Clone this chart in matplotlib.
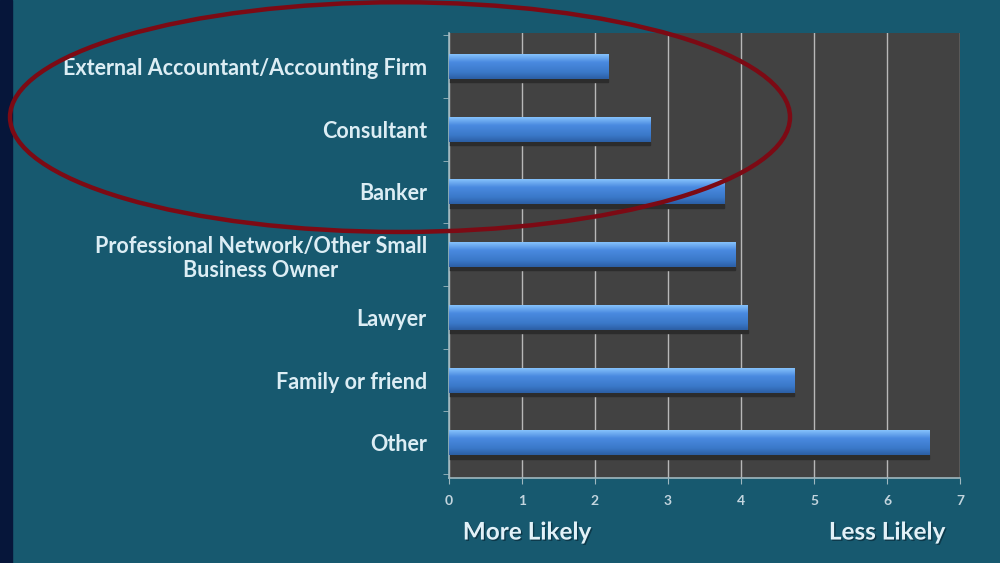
import numpy as np
import matplotlib
matplotlib.use("Agg")
import matplotlib.pyplot as plt
from matplotlib.patches import Ellipse, Rectangle
from matplotlib.colors import LinearSegmentedColormap
import matplotlib.patheffects as pe

categories = ["External Accountant/Accounting Firm", "Consultant", "Banker",
              "Professional Network/Other Small\nBusiness Owner", "Lawyer",
              "Family or friend", "Other"]
values = [2.18, 2.76, 3.77, 3.92, 4.09, 4.73, 6.58]
xticks = [0, 1, 2, 3, 4, 5, 6, 7]
left_note = "More Likely"
right_note = "Less Likely"

BG = "#17596f"
PLOT_BG = "#424242"
TXT = "#dcedf4"

plt.rcParams['font.family'] = ['Lato', 'DejaVu Sans']

fig = plt.figure(figsize=(10, 5.63), dpi=100, facecolor=BG)
ax = fig.add_axes([0.449, 0.151, 0.511, 0.790])
ax.set_facecolor(PLOT_BG)

y = np.arange(len(categories))
bars = ax.barh(y, values, height=0.40, color="#3f7fce", edgecolor="none", zorder=3)

grad = np.linspace(0, 1, 64).reshape(-1, 1)
cmap = LinearSegmentedColormap.from_list("barg", [
    (0.0, "#8cc8ff"), (0.18, "#6aa8ef"), (0.35, "#4a8ae0"),
    (0.75, "#3a78c8"), (1.0, "#2c5fa5")])
for b in bars:
    x0, y0 = b.get_x(), b.get_y()
    w, h = b.get_width(), b.get_height()
    im = ax.imshow(grad, extent=(x0, x0 + w, y0 + h, y0), cmap=cmap,
                   aspect="auto", zorder=4, interpolation="bilinear")
    im.set_clip_path(b)
    ax.add_patch(Rectangle((x0, y0 + h), w, 0.05, color="#2c2c2c", zorder=2))

ax.set_xlim(0, 7)
ax.set_ylim(len(categories) - 0.44, -0.53)
ax.set_xticks(xticks)
ax.set_xticklabels([str(t) for t in xticks], color="#c3d5de", fontsize=10, fontweight="bold")
ax.set_yticks(y)
ax.set_yticklabels(categories, color=TXT, fontsize=15.5, fontweight="bold",
                   multialignment="center")
ax.set_yticks(np.arange(-0.5, len(categories), 1.0), minor=True)
ax.tick_params(axis="y", which="major", length=0, pad=16)
ax.tick_params(axis="y", which="minor", length=4, color="#9fb8c0")
ax.tick_params(axis="x", length=4, color="#9fb8c0", pad=8)
ax.grid(axis="x", color="#b8b8b8", linewidth=1.0, zorder=1)
ax.set_axisbelow(True)
for s in ["top", "right"]:
    ax.spines[s].set_visible(False)
for s in ["left", "bottom"]:
    ax.spines[s].set_color("#9fb8c0")
    ax.spines[s].set_linewidth(1.2)

shadow = [pe.withSimplePatchShadow(offset=(1, -1), shadow_rgbFace="#0a3040", alpha=0.8)]
fig.text(0.527, 0.055, left_note, color="#e2f1f8", fontsize=17.5, fontweight="bold",
         ha="center", va="center", path_effects=shadow)
fig.text(0.887, 0.055, right_note, color="#e2f1f8", fontsize=17.5, fontweight="bold",
         ha="center", va="center", path_effects=shadow)

fig.patches.append(Rectangle((0, 0), 0.012, 1, transform=fig.transFigure,
                             color="#06163a", zorder=0))
fig.patches.append(Ellipse((0.400, 0.792), 0.780, 0.408, transform=fig.transFigure,
                           fill=False, edgecolor="#7c0a14", linewidth=3.2, zorder=10))

fig.savefig("out.png", dpi=100, facecolor=BG)
